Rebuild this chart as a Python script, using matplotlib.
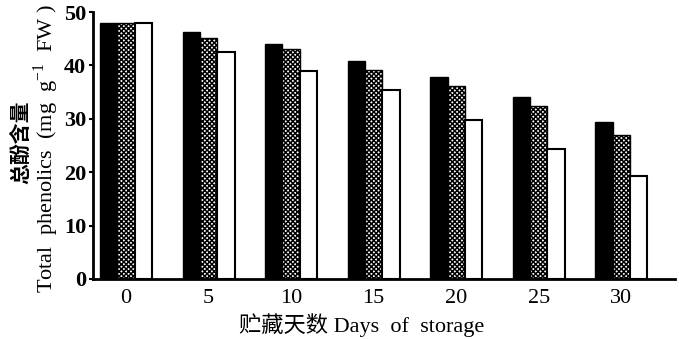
"""Total phenolics during storage, grouped bars (three treatments)."""
import matplotlib
matplotlib.use("Agg")
import matplotlib.pyplot as plt
import numpy as np

days = ["0", "5", "10", "15", "20", "25", "30"]
series_a = [48.0, 46.3, 44.1, 40.8, 37.8, 34.1, 29.4]  # black
series_b = [48.0, 45.1, 43.1, 39.1, 36.2, 32.4, 26.9]  # dotted
series_c = [48.0, 42.6, 38.9, 35.4, 29.7, 24.4, 19.2]  # white
y_ticks = [0, 10, 20, 30, 40, 50]

FONTS = ["Liberation Serif", "Noto Sans CJK SC", "DejaVu Serif"]
plt.rcParams["font.family"] = FONTS
plt.rcParams["mathtext.fontset"] = "stix"
plt.rcParams["hatch.linewidth"] = 1.1

fig = plt.figure(figsize=(6.79, 3.39), dpi=100)
ax = fig.add_axes([93 / 679, 1 - 279 / 339, 582 / 679, 267 / 339])

x = np.arange(len(days))
w = 0.21
ax.bar(x - w, series_a, w, color="black", edgecolor="black", linewidth=1)
ax.bar(x, series_b, w, color="white", edgecolor="black", linewidth=1,
       hatch="xxxxxxx")
ax.bar(x + w, series_c, w, color="white", edgecolor="black", linewidth=1.5)

ax.set_xlim(-0.4, 6.65)
ax.set_ylim(0, 50)
ax.set_yticks(y_ticks)
ax.set_xticks(x)
ax.set_xticklabels(days)
ax.tick_params(axis="x", length=0, pad=7, labelsize=16)
ax.tick_params(axis="y", length=3, width=1.5, pad=2, labelsize=16)
for lab in ax.get_yticklabels():
    lab.set_fontweight("bold")

for side in ("top", "right"):
    ax.spines[side].set_visible(False)
ax.spines["left"].set_linewidth(2)
ax.spines["bottom"].set_linewidth(2)

# two-line y label, placed separately so each line sits where the scan has it
fig.text(22 / 679, 1 - 142 / 339, "总酚含量", rotation=90, fontsize=15,
         fontweight="bold", ha="center", va="center")
fig.text(46 / 679, 1 - 148 / 339,
         "Total  phenolics  (mg  g$^{\\mathregular{-1}}$  FW )",
         rotation=90, fontsize=16, ha="center", va="center")

ax.set_xlabel("贮藏天数 Days  of  storage", fontsize=16)
ax.xaxis.set_label_coords(0.462, -0.13)

fig.savefig("out.png", dpi=100)
